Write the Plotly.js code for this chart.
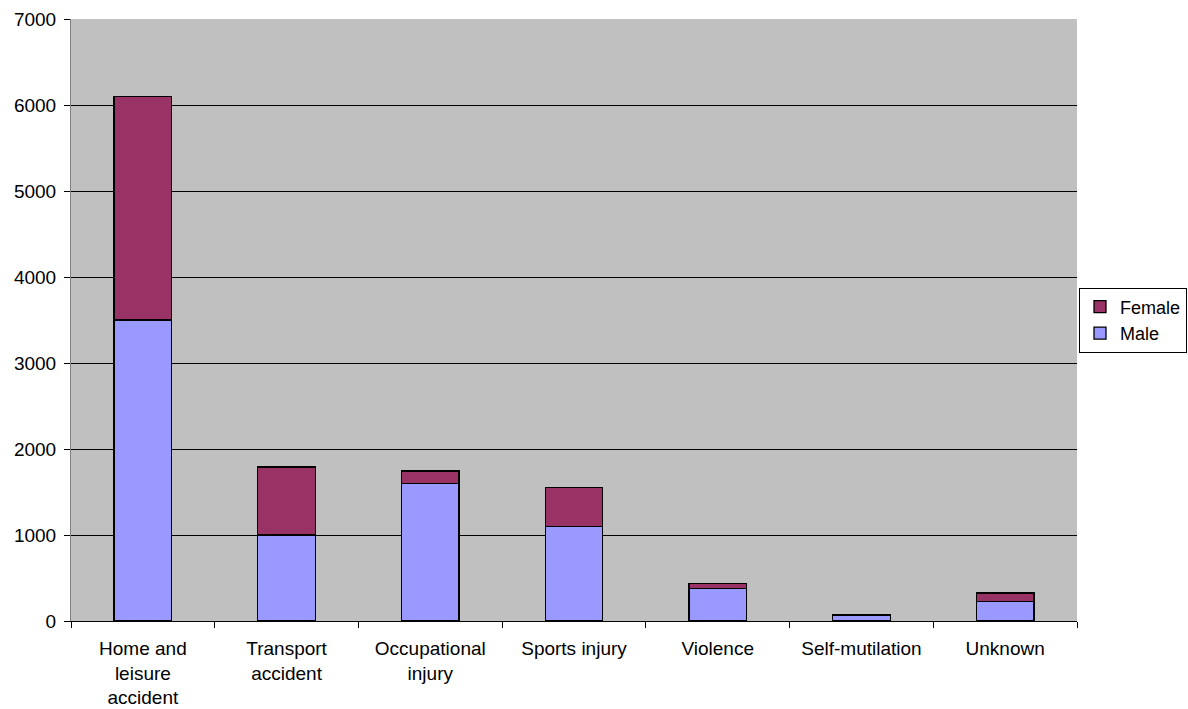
<!DOCTYPE html>
<html>
<head>
<meta charset="utf-8">
<script src="https://cdn.plot.ly/plotly-3.0.1.min.js"></script>
<style>html,body{margin:0;padding:0;background:#fff;}#chart{width:1188px;height:709px;}</style>
</head>
<body>
<div id="chart"></div>
<script>
const categories = ["Home and<br>leisure<br>accident", "Transport<br>accident", "Occupational<br>injury", "Sports injury", "Violence", "Self-mutilation", "Unknown"];
const maleValues = [3500, 1000, 1600, 1100, 375, 70, 225];
const femaleValues = [2600, 790, 145, 450, 62, 8, 102];
const yTickValues = [0, 1000, 2000, 3000, 4000, 5000, 6000, 7000];

const font = {family: "Liberation Sans, Arial, sans-serif", size: 19, color: "#000"};

const traces = [
  {type: "bar", name: "Male", x: categories, y: maleValues,
   marker: {color: "#9999FF", line: {color: "#000", width: 1.3}}, hoverinfo: "y"},
  {type: "bar", name: "Female", x: categories, y: femaleValues,
   marker: {color: "#993366", line: {color: "#000", width: 1.3}}, hoverinfo: "y"}
];

const layout = {
  width: 1188, height: 709,
  margin: {l: 71, r: 111, t: 19, b: 88, autoexpand: false},
  barmode: "stack",
  bargap: 0.6,
  paper_bgcolor: "#fff",
  plot_bgcolor: "#C0C0C0",
  font: font,
  showlegend: true,
  legend: {x: 1079 / 1188, xref: "container", xanchor: "left", y: 0.5, yanchor: "middle",
           traceorder: "reversed", bgcolor: "#fff", bordercolor: "#000", borderwidth: 1,
           font: Object.assign({}, font, {size: 18}), itemwidth: 30, tracegroupgap: 0},
  xaxis: {type: "category", tickson: "boundaries", ticks: "outside", ticklen: 6,
          tickcolor: "#000", showline: true, linecolor: "#000", linewidth: 1,
          showgrid: false, tickfont: font, fixedrange: true, ticklabelstandoff: 10},
  yaxis: {range: [0, 7000], tickvals: yTickValues, ticktext: yTickValues.map(String),
          ticks: "outside", ticklen: 6, tickcolor: "#000", showline: true, linecolor: "#808080",
          linewidth: 1, showgrid: true, gridcolor: "#000", gridwidth: 1, zeroline: false,
          tickfont: font, fixedrange: true, ticklabelstandoff: 4}
};

Plotly.newPlot("chart", traces, layout, {displayModeBar: false, staticPlot: true});
</script>
</body>
</html>
